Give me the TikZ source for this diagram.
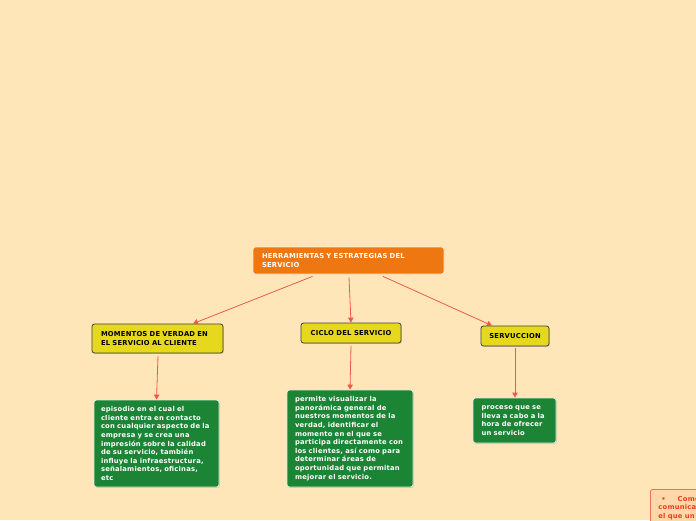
\documentclass[tikz,border=0pt]{standalone}
\usepackage{fontspec}
\setmainfont{DejaVu Sans}[LetterSpace=3]
\usetikzlibrary{arrows.meta,shadows}
\definecolor{bgc}{HTML}{FFE6B8}
\definecolor{orangec}{HTML}{EE7712}
\definecolor{yellowc}{HTML}{E6D81C}
\definecolor{greenc}{HTML}{1B8435}
\definecolor{linec}{HTML}{EE5A4A}
\definecolor{pinkc}{HTML}{FFD7A8}
\definecolor{redtext}{HTML}{E8401C}
\tikzset{
  base/.style={rectangle, rounded corners=2.5pt, inner sep=0pt, align=left,
    font=\fontsize{6.8}{8.6}\selectfont\bfseries},
  rootbox/.style={base, fill=orangec, draw=white!80!orangec, line width=0.8pt, text=white},
  topicbox/.style={base, fill=yellowc, draw=black!75, line width=0.8pt, text=black,
    drop shadow={shadow xshift=0.8pt, shadow yshift=-0.8pt, opacity=0.35}},
  leafbox/.style={base, fill=greenc, draw=white!85!greenc, line width=0.8pt, text=white,
    drop shadow={shadow xshift=0.8pt, shadow yshift=-0.8pt, opacity=0.3}},
  conn/.style={draw=linec, line width=0.8pt, -{Triangle[length=5pt,width=5.5pt]}},
}
\begin{document}
\begin{tikzpicture}[x=1pt,y=-1pt]
\fill[bgc] (0,0) rectangle (696,520);
\useasboundingbox (0,0) rectangle (696,520);
\node[rootbox, minimum width=191pt, minimum height=27pt, text width=173pt] (root) at (348.5,260.5)
  {HERRAMIENTAS Y ESTRATEGIAS DEL\\SERVICIO};
\node[topicbox, minimum width=131pt, minimum height=29pt, text width=113pt] (mom) at (157.5,338.5)
  {MOMENTOS DE VERDAD EN\\EL SERVICIO AL CLIENTE};
\node[topicbox, minimum width=100pt, minimum height=20pt, align=center] (ciclo) at (351,333)
  {CICLO DEL SERVICIO};
\node[topicbox, minimum width=68pt, minimum height=20pt, align=center] (serv) at (515,336)
  {SERVUCCION};
\node[leafbox, minimum width=125pt, minimum height=87pt, text width=111pt] (g1) at (156.5,443.5)
  {episodio en el cual el\\cliente entra en contacto\\con cualquier aspecto de la\\empresa y se crea una\\impresión sobre la calidad\\de su servicio, también\\influye la infraestructura,\\señalamientos, oficinas,\\etc};
\node[leafbox, minimum width=126pt, minimum height=97pt, text width=110pt] (g2) at (350,438.5)
  {permite visualizar la\\panorámica general de\\nuestros momentos de la\\verdad, identificar el\\momento en el que se\\participa directamente con\\los clientes, así como para\\determinar áreas de\\oportunidad que permitan\\mejorar el servicio.};
\node[leafbox, minimum width=83pt, minimum height=45pt, text width=66pt] (g3) at (514.5,420.5)
  {proceso que se\\lleva a cabo a la\\hora de ofrecer\\un servicio};
\begin{scope}
\clip (0,0) rectangle (696,520);
\node[base, anchor=north west, fill=pinkc, draw=redtext!75, line width=0.8pt, text=redtext,
  minimum width=120pt, text width=104pt, inner xsep=8pt, inner ysep=6.5pt] (part) at (650,489)
  {\hspace*{3pt}•\hspace*{12pt}Comentario\\comunicación\\el que un};
\end{scope}
\draw[conn] ([xshift=-36pt,yshift=-2pt]root.south) -- ([xshift=35.5pt]mom.north);
\draw[conn] ([xshift=0.5pt,yshift=-3pt]root.south) -- (ciclo.north);
\draw[conn] ([xshift=34.5pt,yshift=-2pt]root.south) -- ([xshift=-23pt]serv.north);
\draw[conn] ([xshift=0.5pt,yshift=-2.5pt]mom.south) -- (g1.north);
\draw[conn] ([yshift=-2.5pt]ciclo.south) -- (g2.north);
\draw[conn] ([yshift=-2pt]serv.south) -- ([xshift=0.5pt]g3.north);
\end{tikzpicture}
\end{document}
